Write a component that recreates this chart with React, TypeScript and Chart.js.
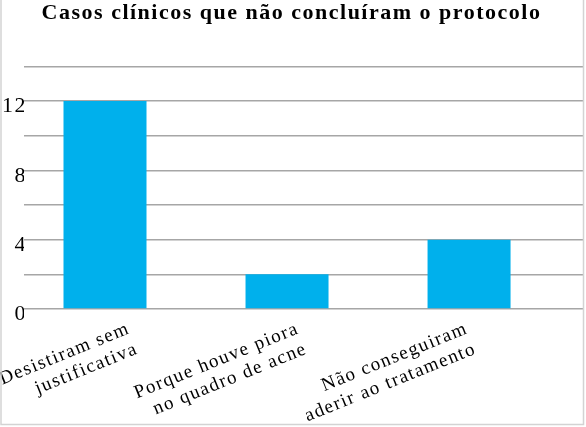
import { useEffect, useRef } from 'react';
import Chart from 'chart.js/auto';

const titleText = 'Casos clínicos que não concluíram o protocolo';
const categories: string[][] = [
    ['Desistiram sem', 'justificativa'],
    ['Porque houve piora', 'no quadro de acne'],
    ['Não conseguiram', 'aderir ao tratamento'],
];
const casos = [12, 2, 4];
const yMax = 14;
const yStep = 2;

const serif = '"Liberation Serif", "Times New Roman", serif';

// the original uses a wide old-style serif, so loosen the letters a bit
const spacingPlugin = {
    id: 'spacing',
    beforeDraw(chart: Chart) {
        (chart.ctx as any).letterSpacing = '1.5px';
    },
    afterDraw(chart: Chart) {
        (chart.ctx as any).letterSpacing = '0px';
    },
};

// thin grey frame around the picture, like the exported image
const framePlugin = {
    id: 'frame',
    afterDraw(chart: Chart) {
        const { ctx, width, height } = chart;
        ctx.save();
        ctx.strokeStyle = '#d3d3d3';
        ctx.lineWidth = 1.5;
        ctx.beginPath();
        ctx.moveTo(1, 0);
        ctx.lineTo(1, height - 2.5);
        ctx.lineTo(width - 2.5, height - 2.5);
        ctx.lineTo(width - 2.5, 0);
        ctx.stroke();
        ctx.restore();
    },
};

const indexTicks = (s: any) => {
    s.ticks = categories.map((_, i) => ({ value: i }));
};

const App = () => {
    const chartRef = useRef<HTMLCanvasElement>(null);

    useEffect(() => {
        document.body.style.margin = '0';
        if (!chartRef.current) return;
        const ctx = chartRef.current.getContext('2d');
        if (!ctx) return;

        const chart = new Chart(ctx, {
            type: 'bar',
            data: {
                datasets: [
                    {
                        label: 'Casos',
                        data: casos.map((v, i) => ({ x: i, y: v })),
                        backgroundColor: '#00b0ec',
                        borderWidth: 0,
                        categoryPercentage: 1,
                        barPercentage: 0.456,
                    },
                ],
            },
            options: {
                responsive: true,
                maintainAspectRatio: false,
                animation: false,
                layout: { padding: { top: 0, right: 3, bottom: 0, left: 0 } },
                plugins: {
                    legend: { display: false },
                    tooltip: { enabled: false },
                    title: {
                        display: true,
                        text: titleText,
                        color: '#000',
                        font: { family: serif, size: 22, weight: 'bold' },
                        padding: { top: 0, bottom: 40 },
                    },
                },
                scales: {
                    // bars sit on this one
                    x: {
                        type: 'linear',
                        display: false,
                        offset: false,
                        min: -0.445,
                        max: 2.626,
                        afterBuildTicks: indexTicks,
                    },
                    // category names are hung from this one
                    xLabels: {
                        type: 'linear',
                        position: 'bottom',
                        offset: false,
                        min: -0.621,
                        max: 2.686,
                        grid: { display: false },
                        border: { display: false },
                        afterBuildTicks: indexTicks,
                        afterFit: (s: any) => {
                            s.height = 118;
                            s.paddingLeft = 0;
                            s.paddingRight = 0;
                        },
                        ticks: {
                            autoSkip: false,
                            minRotation: 22,
                            maxRotation: 22,
                            padding: 1,
                            color: '#000',
                            font: { family: serif, size: 19, lineHeight: 1.15 },
                            callback: (v: any) => categories[v] ?? '',
                        },
                    },
                    y: {
                        min: 0,
                        max: yMax,
                        grid: { color: '#a6a6a6', lineWidth: 1.5, drawTicks: false },
                        border: { display: false },
                        afterFit: (s: any) => {
                            s.width = 24;
                        },
                        ticks: {
                            stepSize: yStep,
                            padding: -3,
                            color: '#000',
                            font: { family: serif, size: 22, lineHeight: 0.5 },
                            // empty first line nudges the number a little below its gridline
                            callback: (v: any) => (v % 4 === 0 && v < yMax ? ['', String(v)] : ''),
                        },
                    },
                },
            },
            plugins: [spacingPlugin, framePlugin],
        });

        return () => {
            chart.destroy();
        };
    }, []);

    return (
        <div style={{ position: 'relative', width: 586, height: 427 }}>
            <canvas ref={chartRef} />
        </div>
    );
};

export default App;
